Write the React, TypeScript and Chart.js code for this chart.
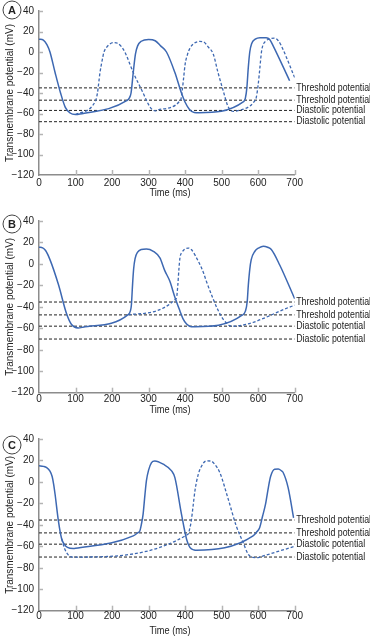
import React, { useEffect, useRef } from 'react';
import { Chart, registerables } from 'chart.js';

Chart.register(...registerables);

const FONT = "'Liberation Sans', Arial, sans-serif";
const BLUE = '#3d68b2';
const INK = '#222222';

const X_MIN = 0;
const X_MAX = 700;
const X_STEP = 100;
const Y_MIN = -120;
const Y_MAX = 40;
const Y_STEP = 20;

const X_TITLE = 'Time (ms)';
const Y_TITLE = 'Transmembrane potential (mV)';
const LEVEL_LABELS = ['Threshold potential', 'Threshold potential', 'Diastolic potential', 'Diastolic potential'];

const A_LEVELS = [-35, -47, -57, -68];
const B_LEVELS = [-35.5, -47.5, -58, -70];
const C_LEVELS = [-35.5, -47.5, -58, -70];

const A_SOLID: number[][] = [
  [0, 12.5], [12, 11.5], [22, 7], [30, 0], [44, -20], [59, -40], [72, -54], [85, -59.5], [100, -61], [112, -60.5],
  [240, -47.5], [247, -45], [252, -40], [258, -20], [264, -2], [270, 6], [280, 10.5], [300, 12.2], [318, 11], [333, 6],
  [349, 0], [372, -20], [390, -40], [400, -49], [412, -56], [425, -59], [438, -59.2],
  [560, -48.5], [565, -45], [569, -35], [573, -15], [577, 0], [582, 8], [592, 12.5], [605, 14], [622, 14], [632, 12],
  [641, 6], [686, -28],
];
const A_DASHED: number[][] = [
  [100, -61], [155, -47.5], [160, -40], [167, -20], [173, -8], [178, 0], [185, 4.5], [195, 8], [205, 9.2], [215, 8.5],
  [225, 5.5], [235, 0], [258, -20], [285, -40], [298, -50], [308, -55.5], [318, -57.5], [330, -56],
  [388, -46.6], [392, -38], [396, -25], [400, -12], [406, -3], [413, 3.5], [425, 8.5], [440, 10.3], [450, 10], [463, 5],
  [477, -2], [490, -20], [506, -40], [515, -51], [522, -56], [532, -58], [542, -57.5],
  [590, -48], [595, -44], [600, -32], [604, -18], [609, 0], [613, 6.6], [622, 11], [632, 13], [645, 13.5], [655, 11],
  [662, 7], [700, -25],
];

const B_SOLID: number[][] = [
  [0, 15.6], [10, 15], [18, 12.5], [30, 4], [53, -19], [76, -47], [89, -56.5], [107, -59.6], [120, -59],
  [244, -47.2], [250, -44], [253, -38], [256, -20], [259, -5], [263, 5], [270, 11], [280, 13.5], [294, 14], [313, 11.8],
  [331, 5.6], [344, -6], [358, -16], [372, -31], [386, -44], [394, -51], [404, -56], [417, -58.5], [427, -58.5],
  [556, -47.8], [565, -44], [570, -35], [573, -20], [577, -5], [581, 4], [591, 11.8], [602, 15], [614, 16.5],
  [626, 15.5], [636, 13.4], [659, -1], [700, -32.5],
];
const B_DASHED: number[][] = [
  [244, -47.2], [376, -32], [380, -20], [383, -5], [386, 6], [392, 11], [400, 14], [408, 14.8], [417, 13.4],
  [436, 2.5], [450, -8], [458, -16], [476, -32], [490, -43], [505, -52], [513, -55], [522, -57.5], [530, -58],
  [700, -38.5],
];

const C_SOLID: number[][] = [
  [0, 15], [12, 14.5], [21, 13.4], [30, 10], [36, 5], [40, -2], [44, -11.5], [53, -36], [62, -53], [70, -58.5],
  [78, -61], [94, -62], [100, -61.8], [258, -50.3], [270, -47.5], [276, -45.7], [280, -40], [285, -30], [290, -12],
  [294, 1], [300, 11], [308, 18], [317, 19.6], [340, 16.5], [363, 10.3], [372, 4], [390, -30], [404, -53.4],
  [413, -61], [425, -63.5], [431, -63.7], [586, -50.3], [595, -47], [604, -42.6], [612, -32], [620, -21],
  [628, -5], [634, 5], [645, 11.8], [655, 12], [664, 10.3], [668, 9], [682, -5.3], [697, -33.5],
];
const C_DASHED: number[][] = [
  [62, -53], [70, -62], [80, -68], [92, -70], [100, -70], [408, -48.7], [413, -43], [417, -36], [422, -22],
  [427, -8], [436, 7], [449, 17], [458, 19.6], [470, 19.5], [481, 16.5], [495, 8.7], [518, -16], [540, -41],
  [559, -56.6], [572, -67], [585, -70.3], [600, -70.5], [614, -69], [700, -60],
];

const toPts = (arr: number[][]) => arr.map(([x, y]) => ({ x, y }));

const decoPlugin = {
  id: 'deco',
  beforeDatasetsDraw(chart: any) {
    const { ctx, chartArea: ca, scales } = chart;
    const xs = scales.x;
    const ys = scales.y;
    ctx.save();
    ctx.strokeStyle = '#b4b4b4';
    ctx.lineWidth = 1.5;
    for (let v = Y_MIN + Y_STEP; v <= Y_MAX; v += Y_STEP) {
      const py = Math.round(ys.getPixelForValue(v)) + 0.5;
      ctx.beginPath();
      ctx.moveTo(ca.left, py);
      ctx.lineTo(ca.left + 4, py);
      ctx.stroke();
    }
    for (let t = X_MIN + X_STEP; t <= X_MAX; t += X_STEP) {
      const px = Math.round(xs.getPixelForValue(t)) + 0.5;
      ctx.beginPath();
      ctx.moveTo(px, ca.bottom);
      ctx.lineTo(px, ca.bottom - 5);
      ctx.stroke();
    }
    ctx.restore();
  },
  afterDraw(chart: any, _args: any, opts: any) {
    const { ctx, chartArea: ca, scales } = chart;
    const ys = scales.y;
    ctx.save();
    ctx.fillStyle = INK;
    ctx.font = `10px ${FONT}`;
    ctx.textBaseline = 'middle';
    ctx.textAlign = 'left';
    (opts.levels as number[]).forEach((v, i) => {
      const py = ys.getPixelForValue(v);
      ctx.save();
      ctx.translate(ca.right + 1.5, py);
      ctx.scale(0.88, 1);
      ctx.fillText(LEVEL_LABELS[i], 0, 0);
      ctx.restore();
    });
    // x axis title (slightly condensed)
    ctx.save();
    ctx.translate(opts.xTitleX, opts.xTitleY);
    ctx.scale(0.92, 1);
    ctx.textAlign = 'center';
    ctx.fillText(X_TITLE, 0, 0);
    ctx.restore();
    // panel letter
    ctx.beginPath();
    ctx.arc(12, opts.circleY, 9, 0, Math.PI * 2);
    ctx.fillStyle = '#ffffff';
    ctx.fill();
    ctx.strokeStyle = '#444';
    ctx.lineWidth = 1;
    ctx.stroke();
    ctx.fillStyle = INK;
    ctx.font = `bold 11px ${FONT}`;
    ctx.textAlign = 'center';
    ctx.fillText(opts.letter, 12, opts.circleY + 0.5);
    ctx.restore();
  },
};

type PanelProps = {
  top: number;
  height: number;
  padTop: number;
  xh: number;
  xTitleY: number;
  tickPad: number;
  solid: number[][];
  dashed: number[][];
  levels: number[];
  letter: string;
  circleY: number;
};

function Panel(p: PanelProps) {
  const ref = useRef<HTMLCanvasElement | null>(null);
  useEffect(() => {
    if (!ref.current) return;
    const font = { family: FONT, size: 10 };
    const levelSets = p.levels.map((v) => ({
      data: [{ x: X_MIN, y: v }, { x: X_MAX, y: v }],
      borderColor: INK,
      borderWidth: 1,
      borderDash: [3, 2],
      pointRadius: 0,
      fill: false,
    }));
    const chart = new Chart(ref.current, {
      type: 'line',
      data: {
        datasets: [
          {
            data: toPts(p.solid),
            borderColor: BLUE,
            borderWidth: 1.5,
            pointRadius: 0,
            cubicInterpolationMode: 'monotone',
            fill: false,
          },
          {
            data: toPts(p.dashed),
            borderColor: BLUE,
            borderWidth: 1.3,
            borderDash: [3, 2],
            pointRadius: 0,
            cubicInterpolationMode: 'monotone',
            fill: false,
          },
          ...levelSets,
        ],
      } as any,
      options: {
        responsive: false,
        animation: false,
        devicePixelRatio: 1,
        layout: { padding: { top: p.padTop, right: 75.3, left: 0, bottom: 0 } },
        plugins: {
          legend: { display: false },
          tooltip: { enabled: false },
          deco: { levels: p.levels, letter: p.letter, circleY: p.circleY, xTitleX: 170, xTitleY: p.xTitleY },
        } as any,
        scales: {
          x: {
            type: 'linear',
            min: X_MIN,
            max: X_MAX,
            ticks: { stepSize: X_STEP, font, color: INK, padding: p.tickPad, maxRotation: 0, autoSkip: false },
            grid: { display: false, drawTicks: false },
            border: { display: true, color: '#8c8c8c', width: 1.5 },
            title: { display: false },
            afterFit: (s: any) => {
              s.height = p.xh;
            },
          },
          y: {
            type: 'linear',
            min: Y_MIN,
            max: Y_MAX,
            ticks: {
              stepSize: Y_STEP,
              font,
              color: INK,
              padding: 5,
              callback: (v: any) => String(v).replace('-', '\u2212'),
            },
            grid: { display: false, drawTicks: false },
            border: { display: true, color: '#8c8c8c', width: 1.5 },
            title: {
              display: true,
              text: Y_TITLE,
              font,
              color: INK,
              padding: { top: 4, bottom: 0 },
            },
            afterFit: (s: any) => {
              s.width = 39;
            },
          },
        } as any,
      },
      plugins: [decoPlugin as any],
    });
    return () => chart.destroy();
  }, []);
  return (
    <canvas
      ref={ref}
      width={370}
      height={p.height}
      style={{ position: 'absolute', left: 0, top: p.top, width: 370, height: p.height, display: 'block' }}
    />
  );
}

export default function App() {
  return (
    <div style={{ position: 'fixed', left: 0, top: 0, width: 370, height: 637, background: '#fff', overflow: 'hidden' }}>
      <Panel top={0} height={200} padTop={6} xh={25} xTitleY={193} tickPad={2} solid={A_SOLID} dashed={A_DASHED}
        levels={A_LEVELS} letter="A" circleY={10} />
      <Panel top={200} height={220} padTop={21} xh={27.3} xTitleY={210} tickPad={1} solid={B_SOLID} dashed={B_DASHED}
        levels={B_LEVELS} letter="B" circleY={24} />
      <Panel top={420} height={217} padTop={19} xh={26.3} xTitleY={211} tickPad={0} solid={C_SOLID} dashed={C_DASHED}
        levels={C_LEVELS} letter="C" circleY={25} />
    </div>
  );
}
